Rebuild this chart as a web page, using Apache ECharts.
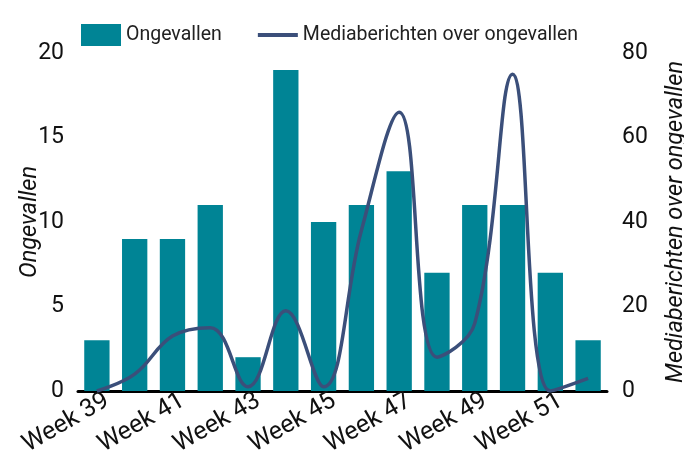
<!DOCTYPE html>
<html lang="nl">
<head>
  <meta charset="UTF-8">
  <title>Ongevallen en mediaberichten</title>
  <script src="https://cdn.jsdelivr.net/npm/echarts@6/dist/echarts.min.js"></script>
</head>
<body>
<div id="chart"></div>
<style>
  html, body {
    margin: 0;
    width: 100%;
    height: 100%;
  }
  #chart {
    width: 684px;
    height: 474px;
  }
</style>
<script>
  const weeks = ['Week 39', 'Week 40', 'Week 41', 'Week 42', 'Week 43', 'Week 44', 'Week 45',
    'Week 46', 'Week 47', 'Week 48', 'Week 49', 'Week 50', 'Week 51', 'Week 52'];
  const ongevallen = [3, 9, 9, 11, 2, 19, 10, 11, 13, 7, 11, 11, 7, 3];
  const mediaberichten = [0, 4, 13, 15, 1, 19, 1, 38, 66, 8, 16, 75, 0, 3];

  const font = 'Roboto';
  const lineColor = '#3b4f7a';
  const chart = echarts.init(document.getElementById('chart'));
  chart.setOption({
    animation: false,
    textStyle: { fontFamily: font },
    legend: {
      top: 19,
      left: 76,
      itemWidth: 40,
      itemHeight: 22,
      itemGap: 36,
      textStyle: { fontSize: 19.5, color: '#222' },
      data: [
        { name: 'Ongevallen', icon: 'rect' },
        { name: 'Mediaberichten over ongevallen', icon: 'path://M0,0 L40,0 L40,4 L0,4 Z', itemStyle: { color: lineColor } }
      ]
    },
    grid: { left: 78, right: 77, top: 53, bottom: 83, outerBoundsMode: 'none' },
    xAxis: {
      type: 'category',
      data: weeks,
      axisLine: { lineStyle: { color: '#000', width: 3 } },
      axisTick: { show: false },
      axisLabel: {
        interval: 1,
        rotate: 30,
        fontSize: 25,
        color: '#111',
        margin: 14,
        padding: [0, -12, 0, 0]
      }
    },
    yAxis: [{
      type: 'value',
      min: 0,
      max: 20,
      interval: 5,
      name: 'Ongevallen',
      nameLocation: 'middle',
      nameGap: 36,
      nameMoveOverlap: false,
      nameTextStyle: { fontSize: 23.5, fontStyle: 'italic', color: '#111' },
      axisLine: { show: false },
      splitLine: { show: false },
      axisLabel: { fontSize: 23, color: '#111', margin: 14 }
    }, {
      type: 'value',
      min: 0,
      max: 80,
      interval: 20,
      name: 'Mediaberichten over ongevallen',
      nameLocation: 'middle',
      nameGap: 58,
      nameRotate: 90,
      nameMoveOverlap: false,
      nameTextStyle: { fontSize: 23.5, fontStyle: 'italic', color: '#111' },
      axisLine: { show: false },
      splitLine: { show: false },
      axisLabel: { fontSize: 23, color: '#111', margin: 15 }
    }],
    series: [{
      name: 'Ongevallen',
      type: 'bar',
      data: ongevallen,
      barWidth: '67%',
      itemStyle: { color: '#008495' }
    }, {
      name: 'Mediaberichten over ongevallen',
      type: 'line',
      yAxisIndex: 1,
      data: mediaberichten,
      smooth: 0.4,
      symbol: 'none',
      clip: true,
      lineStyle: { color: lineColor, width: 3.5 },
      itemStyle: { color: lineColor }
    }]
  });
</script>
</body>
</html>
